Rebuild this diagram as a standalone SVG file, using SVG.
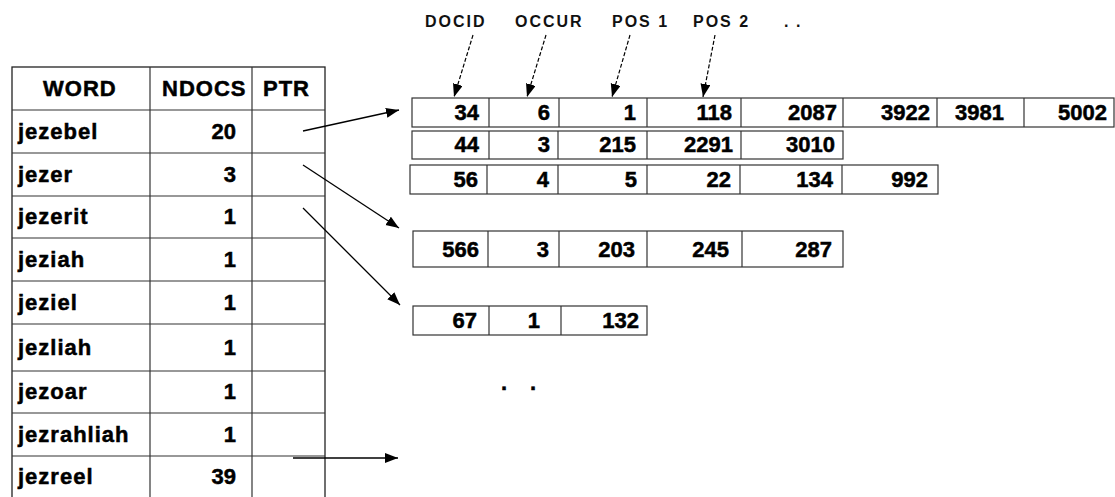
<svg xmlns="http://www.w3.org/2000/svg" width="1115" height="497" viewBox="0 0 1115 497">
<style>
.bg{fill:#ffffff}
.grid{fill:none;stroke:#222;stroke-width:1.3}
.cell{fill:#fff;stroke:#333;stroke-width:1.2}
.sep{stroke:#333;stroke-width:1.2}
.t{font-family:"Liberation Sans",Arial,sans-serif;font-weight:bold;font-size:22px;fill:#000;stroke:#000;stroke-width:0.5;letter-spacing:1px}
.n{font-family:"Liberation Sans",Arial,sans-serif;font-weight:bold;font-size:22px;fill:#000;stroke:#000;stroke-width:0.5;text-anchor:end}
.lbl{font-family:"Liberation Sans",Arial,sans-serif;font-weight:bold;font-size:16px;fill:#111;letter-spacing:2px}
.arr{fill:none;stroke:#000;stroke-width:1.3}
.dash{fill:none;stroke:#000;stroke-width:1.2;stroke-dasharray:4 2}
</style>
<defs>
<marker id="ah" markerUnits="userSpaceOnUse" markerWidth="14" markerHeight="12" refX="13" refY="5" orient="auto">
<path d="M0,0 L13,5 L0,10 z" fill="#000"/>
</marker>
</defs>
<rect class="bg" x="0" y="0" width="1115" height="497"/>

<g id="word-table">
<rect class="grid" x="12" y="67" width="313" height="440"/>
<line class="sep" x1="150" y1="67" x2="150" y2="497"/>
<line class="sep" x1="252" y1="67" x2="252" y2="497"/>
<line class="sep" x1="12" y1="110" x2="325" y2="110"/>
<line class="sep" x1="12" y1="153" x2="325" y2="153"/>
<line class="sep" x1="12" y1="196" x2="325" y2="196"/>
<line class="sep" x1="12" y1="238" x2="325" y2="238"/>
<line class="sep" x1="12" y1="281" x2="325" y2="281"/>
<line class="sep" x1="12" y1="324" x2="325" y2="324"/>
<line class="sep" x1="12" y1="371" x2="325" y2="371"/>
<line class="sep" x1="12" y1="413" x2="325" y2="413"/>
<line class="sep" x1="12" y1="456" x2="325" y2="456"/>
<text class="t" x="43" y="96">WORD</text>
<text class="t" x="162" y="96">NDOCS</text>
<text class="t" x="263" y="96">PTR</text>
<g id="row-jezebel"><text class="t" x="18" y="139">jezebel</text><text class="n" x="236" y="139">20</text></g>
<g id="row-jezer"><text class="t" x="18" y="182">jezer</text><text class="n" x="236" y="182">3</text></g>
<g id="row-jezerit"><text class="t" x="18" y="224">jezerit</text><text class="n" x="236" y="224">1</text></g>
<g id="row-jeziah"><text class="t" x="18" y="267">jeziah</text><text class="n" x="236" y="267">1</text></g>
<g id="row-jeziel"><text class="t" x="18" y="310">jeziel</text><text class="n" x="236" y="310">1</text></g>
<g id="row-jezliah"><text class="t" x="18" y="355">jezliah</text><text class="n" x="236" y="355">1</text></g>
<g id="row-jezoar"><text class="t" x="18" y="399">jezoar</text><text class="n" x="236" y="399">1</text></g>
<g id="row-jezrahliah"><text class="t" x="18" y="442">jezrahliah</text><text class="n" x="236" y="442">1</text></g>
<g id="row-jezreel"><text class="t" x="18" y="484">jezreel</text><text class="n" x="236" y="484">39</text></g>
</g>

<g id="column-labels">
<text class="lbl" x="425" y="27">DOCID</text>
<text class="lbl" x="515" y="27">OCCUR</text>
<text class="lbl" x="612" y="27">POS 1</text>
<text class="lbl" x="693" y="27">POS 2</text>
<text class="lbl"><tspan x="784" y="27">.</tspan><tspan x="796" y="27">.</tspan></text>
</g>

<g id="posting-1">
<rect class="cell" x="412" y="98" width="702" height="29"/>
<line class="sep" x1="489" y1="98" x2="489" y2="127"/>
<line class="sep" x1="559" y1="98" x2="559" y2="127"/>
<line class="sep" x1="647" y1="98" x2="647" y2="127"/>
<line class="sep" x1="741" y1="98" x2="741" y2="127"/>
<line class="sep" x1="843" y1="98" x2="843" y2="127"/>
<line class="sep" x1="937" y1="98" x2="937" y2="127"/>
<line class="sep" x1="1024" y1="98" x2="1024" y2="127"/>
<text class="n" x="479" y="120">34</text>
<text class="n" x="550" y="120">6</text>
<text class="n" x="636" y="120">1</text>
<text class="n" x="732" y="120">118</text>
<text class="n" x="837" y="120">2087</text>
<text class="n" x="930" y="120">3922</text>
<text class="n" x="1004" y="120">3981</text>
<text class="n" x="1107" y="120">5002</text>
</g>

<g id="posting-2">
<rect class="cell" x="412" y="131" width="431" height="28"/>
<line class="sep" x1="489" y1="131" x2="489" y2="159"/>
<line class="sep" x1="558" y1="131" x2="558" y2="159"/>
<line class="sep" x1="647" y1="131" x2="647" y2="159"/>
<line class="sep" x1="741" y1="131" x2="741" y2="159"/>
<text class="n" x="479" y="152">44</text>
<text class="n" x="550" y="152">3</text>
<text class="n" x="636" y="152">215</text>
<text class="n" x="733" y="152">2291</text>
<text class="n" x="835" y="152">3010</text>
</g>

<g id="posting-3">
<rect class="cell" x="410" y="165" width="528" height="29"/>
<line class="sep" x1="487" y1="165" x2="487" y2="194"/>
<line class="sep" x1="558" y1="165" x2="558" y2="194"/>
<line class="sep" x1="647" y1="165" x2="647" y2="194"/>
<line class="sep" x1="740" y1="165" x2="740" y2="194"/>
<line class="sep" x1="842" y1="165" x2="842" y2="194"/>
<text class="n" x="478" y="187">56</text>
<text class="n" x="549" y="187">4</text>
<text class="n" x="637" y="187">5</text>
<text class="n" x="731" y="187">22</text>
<text class="n" x="833" y="187">134</text>
<text class="n" x="928" y="187">992</text>
</g>

<g id="posting-4">
<rect class="cell" x="413" y="231" width="430" height="36"/>
<line class="sep" x1="488" y1="231" x2="488" y2="267"/>
<line class="sep" x1="559" y1="231" x2="559" y2="267"/>
<line class="sep" x1="647" y1="231" x2="647" y2="267"/>
<line class="sep" x1="742" y1="231" x2="742" y2="267"/>
<text class="n" x="479" y="257">566</text>
<text class="n" x="549" y="257">3</text>
<text class="n" x="635" y="257">203</text>
<text class="n" x="729" y="257">245</text>
<text class="n" x="832" y="257">287</text>
</g>

<g id="posting-5">
<rect class="cell" x="413" y="306" width="234" height="29"/>
<line class="sep" x1="489" y1="306" x2="489" y2="335"/>
<line class="sep" x1="561" y1="306" x2="561" y2="335"/>
<text class="n" x="477" y="328">67</text>
<text class="n" x="540" y="328">1</text>
<text class="n" x="639" y="328">132</text>
</g>

<g id="ellipsis">
<text class="n" style="text-anchor:start"><tspan x="501" y="390">.</tspan><tspan x="530" y="390">.</tspan></text>
</g>

<g id="connectors">
<line class="arr" x1="303" y1="131" x2="399" y2="110" marker-end="url(#ah)"/>
<line class="arr" x1="303" y1="165" x2="399" y2="228" marker-end="url(#ah)"/>
<line class="arr" x1="303" y1="208" x2="400" y2="305" stroke-width="1" marker-end="url(#ah)"/>
<line class="arr" x1="293" y1="458" x2="398" y2="458" stroke-width="2" marker-end="url(#ah)"/>
<line class="dash" x1="473" y1="35" x2="454" y2="97" stroke-width="1.6" marker-end="url(#ah)"/>
<line class="dash" x1="546" y1="35" x2="527" y2="97" marker-end="url(#ah)"/>
<line class="dash" x1="630" y1="35" x2="612" y2="97" marker-end="url(#ah)"/>
<line class="dash" x1="715" y1="35" x2="703" y2="97" marker-end="url(#ah)"/>
</g>
</svg>
